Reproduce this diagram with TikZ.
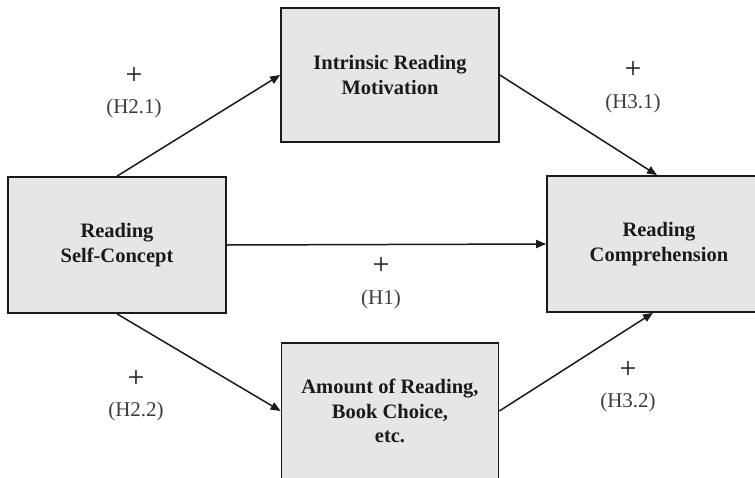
\documentclass[tikz,border=0pt]{standalone}
\usepackage{fontspec}
\setmainfont{Liberation Serif}
\usetikzlibrary{arrows.meta}
\definecolor{boxfill}{HTML}{E6E6E6}
\definecolor{ink}{HTML}{1A1A1A}
\tikzset{
  box/.style={draw=ink, line width=1.7pt, fill=boxfill, align=center, inner sep=0pt,
    font=\fontsize{20.5}{24.5}\selectfont\bfseries, text=ink},
  conn/.style={draw=ink, line width=1.5pt, -{Triangle[length=10pt,width=8pt]}},
  plussign/.style={font=\fontsize{30}{30}\selectfont, text=ink, inner sep=0pt},
  hyp/.style={font=\fontsize{21}{21}\selectfont, text=ink!85, inner sep=0pt}
}
\begin{document}
\begin{tikzpicture}[x=1pt,y=-1pt]
\useasboundingbox (0,0) rectangle (755,477);
\clip (0,0) rectangle (755,477);
\fill[white] (0,0) rectangle (755,477);
\node[box, minimum width=218pt, minimum height=136pt] (sc) at (117,245) {Reading\\Self-Concept};
\node[box, minimum width=218pt, minimum height=134pt] (irm) at (390,75) {Intrinsic Reading\\Motivation};
\node[box, minimum width=217pt, minimum height=136pt] (amt) at (390,411) {Amount of Reading,\\Book Choice,\\etc.};
\node[box, minimum width=224pt, minimum height=136pt] (rc) at (659,244) {Reading\\Comprehension};

\draw[conn] (sc.north) -- (irm.west);
\draw[conn] (irm.east) -- ([xshift=-2pt]rc.north);
\draw[conn] (sc.east) -- (rc.west);
\draw[conn] (sc.south) -- (amt.west);
\draw[conn] (amt.east) -- ([xshift=-6pt]rc.south);

\node[plussign] (p21) at (134,76) {+};
\node[hyp] (h21) at (134,108) {(H2.1)};
\node[plussign] (p31) at (633,70) {+};
\node[hyp] (h31) at (633,103) {(H3.1)};
\node[plussign] (p1) at (381,266) {+};
\node[hyp] (h1) at (381,299) {(H1)};
\node[plussign] (p22) at (136,379) {+};
\node[hyp] (h22) at (136,411) {(H2.2)};
\node[plussign] (p32) at (628,370) {+};
\node[hyp] (h32) at (628,402) {(H3.2)};
\end{tikzpicture}
\end{document}
